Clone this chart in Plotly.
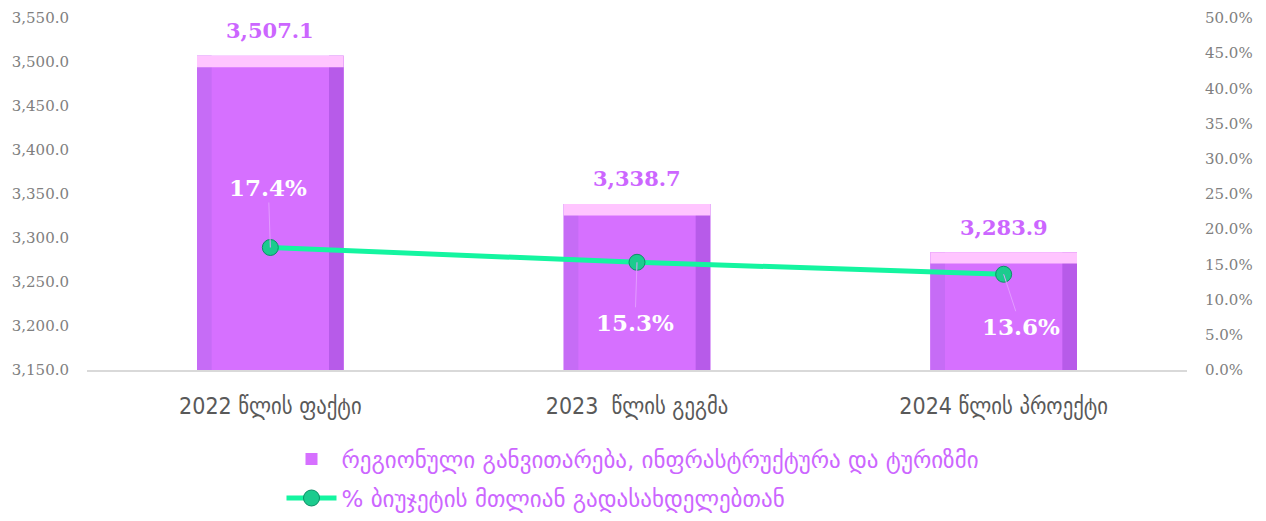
import plotly.graph_objects as go

categories = ["2022 წლის ფაქტი", "2023  წლის გეგმა", "2024 წლის პროექტი"]
budget = [3507.1, 3338.7, 3283.9]
share = [17.4, 15.3, 13.6]
bar_name = "რეგიონული განვითარება, ინფრასტრუქტურა და ტურიზმი"
line_name = "% ბიუჯეტის მთლიან გადასახდელებთან"
left_ticks = [3150 + 50 * i for i in range(9)]
right_ticks = [5 * i for i in range(11)]

y_min = 3150
cap = 13  # height of light top face in data units

fig = go.Figure()
# center front face (legend entry)
fig.add_trace(go.Bar(x=categories, y=budget, width=0.4, marker=dict(color="#D670FF", line=dict(width=0)),
                     name=bar_name, showlegend=True, legendgroup="a", hoverinfo="skip"))
# left side bevel
fig.add_trace(go.Bar(x=categories, y=[v - y_min for v in budget], base=[y_min] * 3, width=0.04, offset=-0.2,
                     marker=dict(color="#C66CF6", line=dict(width=0)), showlegend=False, hoverinfo="skip"))
# right side bevel
fig.add_trace(go.Bar(x=categories, y=[v - y_min for v in budget], base=[y_min] * 3, width=0.04, offset=0.16,
                     marker=dict(color="#B75BE9", line=dict(width=0)), showlegend=False, hoverinfo="skip"))
# top bevel face
fig.add_trace(go.Bar(x=categories, y=[cap] * 3, base=[v - cap for v in budget], width=0.4,
                     marker=dict(color="#FFC5FF", line=dict(width=0)), showlegend=False, hoverinfo="skip"))
fig.add_trace(go.Scatter(x=categories, y=share, yaxis="y2", mode="lines+markers", name=line_name,
                         legendgroup="b",
                         line=dict(color="#14F5A0", width=5),
                         marker=dict(size=16, color="#1CCB8E", line=dict(color="#0E8F66", width=1)),
                         hoverinfo="skip"))

for c, v in zip(categories, budget):
    fig.add_annotation(x=c, y=v, text=f"<b>{v:,.1f}</b>", showarrow=False, yshift=25,
                       font=dict(family="DejaVu Serif", size=21, color="#CC66FF"))

offsets = [(-2, -60), (-2, 60), (17, 52)]
for c, s, (ax, ay) in zip(categories, share, offsets):
    fig.add_annotation(x=c, y=s, yref="y2", text=f"<b>{s:.1f}%</b>", showarrow=True, arrowhead=0,
                       arrowwidth=1, arrowcolor="#E39BFF", ax=ax, ay=ay,
                       font=dict(family="DejaVu Serif", size=23, color="white"))

fig.update_layout(
    width=1266, height=521,
    margin=dict(l=87, r=79, t=18, b=151, autoexpand=False),
    plot_bgcolor="white", paper_bgcolor="white",
    barmode="overlay",
    bargap=0.6,
    xaxis=dict(showgrid=False, showline=True, linecolor="#D9D9D9", linewidth=2,
               ticks="outside", ticklen=14, tickcolor="rgba(0,0,0,0)", automargin=False,
               tickfont=dict(family="DejaVu Sans Condensed", size=23, color="#595959")),
    yaxis=dict(range=[y_min, 3550], tickvals=left_ticks, tickformat=",.1f", showgrid=False,
               zeroline=False, showline=False, automargin=False,
               ticks="outside", ticklen=14, tickcolor="rgba(0,0,0,0)",
               tickfont=dict(family="DejaVu Serif", size=15, color="#808080")),
    yaxis2=dict(range=[0, 50], overlaying="y", side="right", tickvals=right_ticks,
                ticktext=[f"{t:.1f}%" for t in right_ticks], showgrid=False, zeroline=False,
                automargin=False, ticks="outside", ticklen=14, tickcolor="rgba(0,0,0,0)",
                tickfont=dict(family="DejaVu Serif", size=15, color="#808080")),
    legend=dict(orientation="v", x=0.5, xanchor="center", xref="container",
                y=0.16, yanchor="top", yref="container", itemwidth=50,
                font=dict(family="DejaVu Sans", size=23, color="#CC66FF"), tracegroupgap=6),
    showlegend=True,
)

fig.write_html("out.html", config={"displayModeBar": False},
               post_script="document.body.style.margin='0';")
